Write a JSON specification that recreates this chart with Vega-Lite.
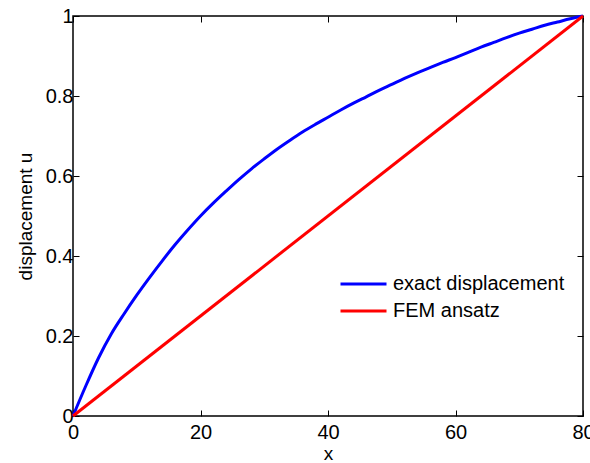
{
  "$schema": "https://vega.github.io/schema/vega-lite/v6.json",
  "width": 510,
  "height": 400,
  "autosize": {"type": "none"},
  "padding": {"left": 73, "top": 16, "right": 7, "bottom": 47},
  "background": "white",
  "config": {
    "font": "Liberation Sans",
    "view": {"stroke": "black", "strokeWidth": 1.5},
    "axis": {
      "grid": false,
      "domain": false,
      "tickColor": "black",
      "tickSize": -6,
      "tickWidth": 1,
      "labelColor": "black",
      "labelFontSize": 20,
      "labelFont": "Liberation Sans",
      "titleFont": "Liberation Sans",
      "titleFontSize": 19,
      "titleFontWeight": "normal",
      "titleColor": "black"
    }
  },
  "datasets": {
    "curves": [
      {"x": 0, "u": 0, "series": "exact displacement"},
      {"x": 2, "u": 0.075, "series": "exact displacement"},
      {"x": 4, "u": 0.145, "series": "exact displacement"},
      {"x": 6, "u": 0.205, "series": "exact displacement"},
      {"x": 8, "u": 0.255, "series": "exact displacement"},
      {"x": 10, "u": 0.302, "series": "exact displacement"},
      {"x": 12, "u": 0.346, "series": "exact displacement"},
      {"x": 14, "u": 0.388, "series": "exact displacement"},
      {"x": 16, "u": 0.428, "series": "exact displacement"},
      {"x": 18, "u": 0.465, "series": "exact displacement"},
      {"x": 20, "u": 0.5, "series": "exact displacement"},
      {"x": 22, "u": 0.532, "series": "exact displacement"},
      {"x": 24, "u": 0.562, "series": "exact displacement"},
      {"x": 26, "u": 0.591, "series": "exact displacement"},
      {"x": 28, "u": 0.618, "series": "exact displacement"},
      {"x": 30, "u": 0.643, "series": "exact displacement"},
      {"x": 32, "u": 0.667, "series": "exact displacement"},
      {"x": 34, "u": 0.689, "series": "exact displacement"},
      {"x": 36, "u": 0.71, "series": "exact displacement"},
      {"x": 38, "u": 0.729, "series": "exact displacement"},
      {"x": 40, "u": 0.747, "series": "exact displacement"},
      {"x": 42, "u": 0.765, "series": "exact displacement"},
      {"x": 44, "u": 0.782, "series": "exact displacement"},
      {"x": 46, "u": 0.798, "series": "exact displacement"},
      {"x": 48, "u": 0.814, "series": "exact displacement"},
      {"x": 50, "u": 0.829, "series": "exact displacement"},
      {"x": 52, "u": 0.844, "series": "exact displacement"},
      {"x": 54, "u": 0.858, "series": "exact displacement"},
      {"x": 56, "u": 0.871, "series": "exact displacement"},
      {"x": 58, "u": 0.884, "series": "exact displacement"},
      {"x": 60, "u": 0.896, "series": "exact displacement"},
      {"x": 62, "u": 0.909, "series": "exact displacement"},
      {"x": 64, "u": 0.922, "series": "exact displacement"},
      {"x": 66, "u": 0.934, "series": "exact displacement"},
      {"x": 68, "u": 0.946, "series": "exact displacement"},
      {"x": 70, "u": 0.957, "series": "exact displacement"},
      {"x": 72, "u": 0.967, "series": "exact displacement"},
      {"x": 74, "u": 0.977, "series": "exact displacement"},
      {"x": 76, "u": 0.985, "series": "exact displacement"},
      {"x": 78, "u": 0.993, "series": "exact displacement"},
      {"x": 80, "u": 1.0, "series": "exact displacement"},
      {"x": 0, "u": 0, "series": "FEM ansatz"},
      {"x": 80, "u": 1, "series": "FEM ansatz"}
    ]
  },
  "data": {"name": "curves"},
  "layer": [
    {
      "mark": {"type": "line", "strokeWidth": 3, "clip": false, "interpolate": "monotone"},
      "encoding": {
        "x": {"field": "x", "type": "quantitative", "scale": {"domain": [0, 80], "nice": false},
              "axis": {"orient": "bottom", "values": [0, 20, 40, 60, 80], "title": "x", "labelPadding": 12, "titlePadding": 2, "labelFlush": false}},
        "y": {"field": "u", "type": "quantitative", "scale": {"domain": [0, 1], "nice": false},
              "axis": {"orient": "left", "values": [0, 0.2, 0.4, 0.6, 0.8, 1], "format": "~g", "title": "displacement u", "labelPadding": 6, "titlePadding": 10, "labelFlush": false}},
        "color": {"field": "series", "type": "nominal",
                  "scale": {"domain": ["exact displacement", "FEM ansatz"], "range": ["#0000ff", "#ff0000"]},
                  "legend": {"title": null, "orient": "none", "legendX": 266, "legendY": 258,
                             "symbolType": "stroke", "symbolSize": 2116, "symbolStrokeWidth": 3,
                             "labelFontSize": 20, "labelFont": "Liberation Sans", "labelColor": "black", "labelLimit": 0,
                             "clipHeight": 20, "rowPadding": 7, "labelOffset": 5, "padding": 0}},
        "order": {"field": "x", "type": "quantitative"}
      }
    },
    {
      "mark": {"type": "line", "opacity": 0},
      "encoding": {
        "x": {"field": "x", "type": "quantitative", "axis": {"orient": "top", "values": [0, 20, 40, 60, 80], "labels": false, "title": null}},
        "y": {"field": "u", "type": "quantitative", "axis": {"orient": "right", "values": [0, 0.2, 0.4, 0.6, 0.8, 1], "labels": false, "title": null}}
      }
    }
  ],
  "resolve": {"axis": {"x": "independent", "y": "independent"}}
}
